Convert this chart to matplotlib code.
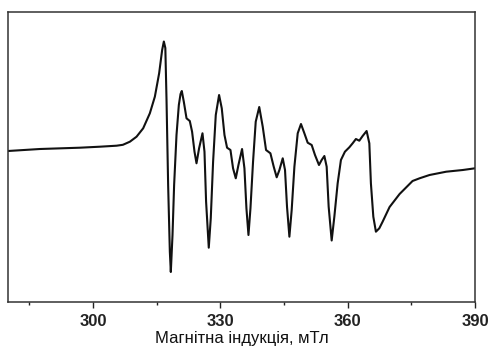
import matplotlib
matplotlib.use("Agg")
import matplotlib.pyplot as plt
from matplotlib.ticker import MultipleLocator

# Magnetic field, mT
field = [280.00, 287.53, 296.94, 301.65, 305.58, 307.06, 308.71, 310.28, 311.84, 313.41,
         314.59, 315.60, 316.31, 316.71, 317.06, 317.34, 317.72, 318.12, 318.35, 318.75,
         319.13, 319.69, 320.24, 320.64, 320.94, 321.41, 322.05, 322.82, 323.36, 323.93,
         324.40, 325.01, 325.81, 326.28, 326.66, 327.29, 327.76, 328.31, 328.94, 329.72,
         330.35, 330.99, 331.60, 332.40, 333.01, 333.65, 334.28, 335.13, 335.69, 336.16,
         336.64, 337.11, 337.72, 338.35, 339.18, 340.00, 340.78, 341.81, 342.59, 343.29,
         343.93, 344.71, 345.25, 345.72, 346.28, 346.82, 347.46, 348.24, 349.01, 349.81,
         350.59, 351.53, 352.31, 353.25, 353.88, 354.52, 355.06, 355.53, 356.24, 356.87,
         357.65, 358.42, 359.36, 360.40, 361.18, 361.95, 362.75, 363.53, 364.47, 365.11,
         365.48, 366.05, 366.66, 367.46, 368.24, 369.88, 372.24, 375.29, 376.94, 379.29,
         383.22, 387.13, 390.00]
# EPR signal, arbitrary units
signal = [0.0, 2.0, 3.3, 4.3, 5.3, 6.2, 9.3, 14.3, 22.7, 37.7,
          54.3, 77.7, 101.0, 109.5, 103.0, 51.0, -34.0, -100.7, -121.0, -84.0,
          -34.0, 16.0, 46.0, 57.0, 60.0, 49.3, 32.7, 30.0, 19.3, -0.7,
          -12.3, 2.7, 17.7, -0.7, -50.7, -96.7, -67.3, -10.7, 36.0, 56.0,
          42.7, 16.0, 3.3, 1.0, -17.3, -27.3, -14.0, 2.0, -17.3, -57.3,
          -84.0, -57.3, -10.7, 29.3, 44.0, 24.3, 1.0, -2.3, -15.7, -26.3,
          -19.0, -7.3, -19.0, -55.7, -85.7, -59.0, -15.7, 17.7, 27.0, 17.7,
          8.3, 6.0, -4.0, -14.0, -9.0, -5.0, -15.7, -55.7, -89.5, -65.7,
          -32.3, -9.0, -0.7, 3.7, 7.7, 12.0, 10.3, 15.0, 20.0, 7.7,
          -32.3, -65.7, -80.7, -77.3, -70.7, -56.0, -43.0, -30.0, -27.3, -24.0,
          -20.7, -19.0, -17.3]

major_ticks = [300, 330, 360, 390]
xlabel = "Магнітна індукція, мТл"

plt.rcParams['font.family'] = ['Liberation Sans', 'DejaVu Sans']

fig = plt.figure(figsize=(4.91, 3.51), dpi=100)
ax = fig.add_axes([8/491, 1-302/351, (475-8)/491, (302-12)/351])
ax.plot(field, signal, color='#111111', lw=1.5, solid_joinstyle='round')
ax.set_xlim(280, 390)
ax.set_ylim(-151, 139)
ax.set_yticks([])
ax.set_xticks(major_ticks)
ax.xaxis.set_minor_locator(MultipleLocator(15))
ax.tick_params(axis='x', which='major', direction='out', length=4, width=1,
               pad=5, labelsize=12, colors='#222222')
ax.tick_params(axis='x', which='minor', direction='out', length=2.5, width=1,
               colors='#222222')
for lbl in ax.get_xticklabels():
    lbl.set_fontweight('bold')
for s in ax.spines.values():
    s.set_linewidth(1.1)
    s.set_color('#333333')
ax.set_xlabel(xlabel, fontsize=12, labelpad=1, color='#111111')
fig.savefig("out.png", dpi=100)
